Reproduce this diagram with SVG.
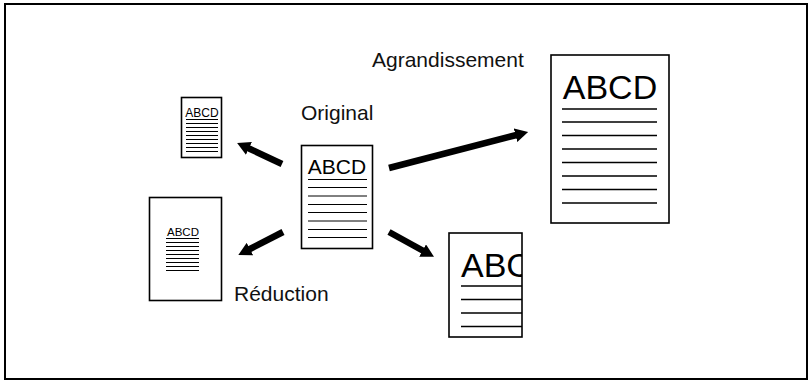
<svg xmlns="http://www.w3.org/2000/svg" width="812" height="381" viewBox="0 0 812 381">
<style>
.doc{fill:#fff;stroke:#000;stroke-width:1.6}
.ln{stroke:#000;stroke-width:1}
.lnb{stroke:#000;stroke-width:1.5}
.lbl{font-family:"Liberation Sans",Arial,sans-serif;font-size:21px;fill:#111}
.t{font-family:"Liberation Sans",Arial,sans-serif;fill:#000}
.arr{stroke:#000;stroke-width:6.5;fill:none;marker-end:url(#ah)}
</style>
<defs>
<marker id="ah" viewBox="0 0 13 14" refX="1" refY="7" markerWidth="13" markerHeight="14" markerUnits="userSpaceOnUse" orient="auto">
<path d="M0,0 L13,7 L0,14 z" fill="#000"/>
</marker>
<clipPath id="cp"><rect x="449" y="233" width="73" height="104"/></clipPath>
</defs>
<rect x="5" y="4" width="802" height="375" fill="#fff" stroke="#000" stroke-width="2"/>

<g id="labels">
<text class="lbl" x="372" y="67">Agrandissement</text>
<text class="lbl" x="301" y="120">Original</text>
<text class="lbl" x="234" y="301">Réduction</text>
</g>

<g id="small-top">
<rect class="doc" x="181.5" y="97.5" width="40" height="60"/>
<text class="t" x="202" y="117" font-size="12" text-anchor="middle">ABCD</text>
<path class="ln" d="M186,119.5H218M186,123.5H218M186,127.5H218M186,131.5H218M186,135.5H218M186,139.5H218M186,143.5H218M186,147.5H218M186,151.5H218"/>
</g>

<g id="small-bottom">
<rect class="doc" x="149.5" y="197.5" width="72" height="103"/>
<text class="t" x="183" y="236" font-size="11.5" text-anchor="middle">ABCD</text>
<path class="ln" d="M166,238.5H199M166,242.5H199M166,246.5H199M166,250.5H199M166,254.5H199M166,258.5H199M166,262.5H199M166,266.5H199M166,270.5H199"/>
</g>

<g id="original">
<rect class="doc" x="301.5" y="145.5" width="71" height="103"/>
<text class="t" x="337" y="174" font-size="21" text-anchor="middle">ABCD</text>
<path class="ln" d="M308,179.5H367M308,187.5H367M308,196H367M308,204.5H367M308,212.5H367M308,221H367M308,229.5H367M308,237.5H367"/>
</g>

<g id="enlarged">
<rect class="doc" x="551" y="55" width="118" height="168"/>
<text class="t" x="610" y="99" font-size="34" text-anchor="middle">ABCD</text>
<path class="lnb" d="M562,109H657M562,122H657M562,135.5H657M562,149H657M562,162.5H657M562,176H657M562,189.5H657M562,203H657"/>
</g>

<g id="cropped">
<rect class="doc" x="449" y="233" width="73" height="104"/>
<g clip-path="url(#cp)">
<text class="t" x="461" y="277" font-size="34">ABCD</text>
</g>
<path class="lnb" d="M461,286H522M461,299.5H522M461,313H522M461,326.5H522"/>
</g>

<g id="connectors">
<line class="arr" x1="282" y1="164" x2="248" y2="148"/>
<line class="arr" x1="283" y1="232" x2="249" y2="249.5"/>
<line class="arr" x1="389" y1="232" x2="423.5" y2="251"/>
<line class="arr" x1="389" y1="168" x2="516.5" y2="135"/>
</g>
</svg>
